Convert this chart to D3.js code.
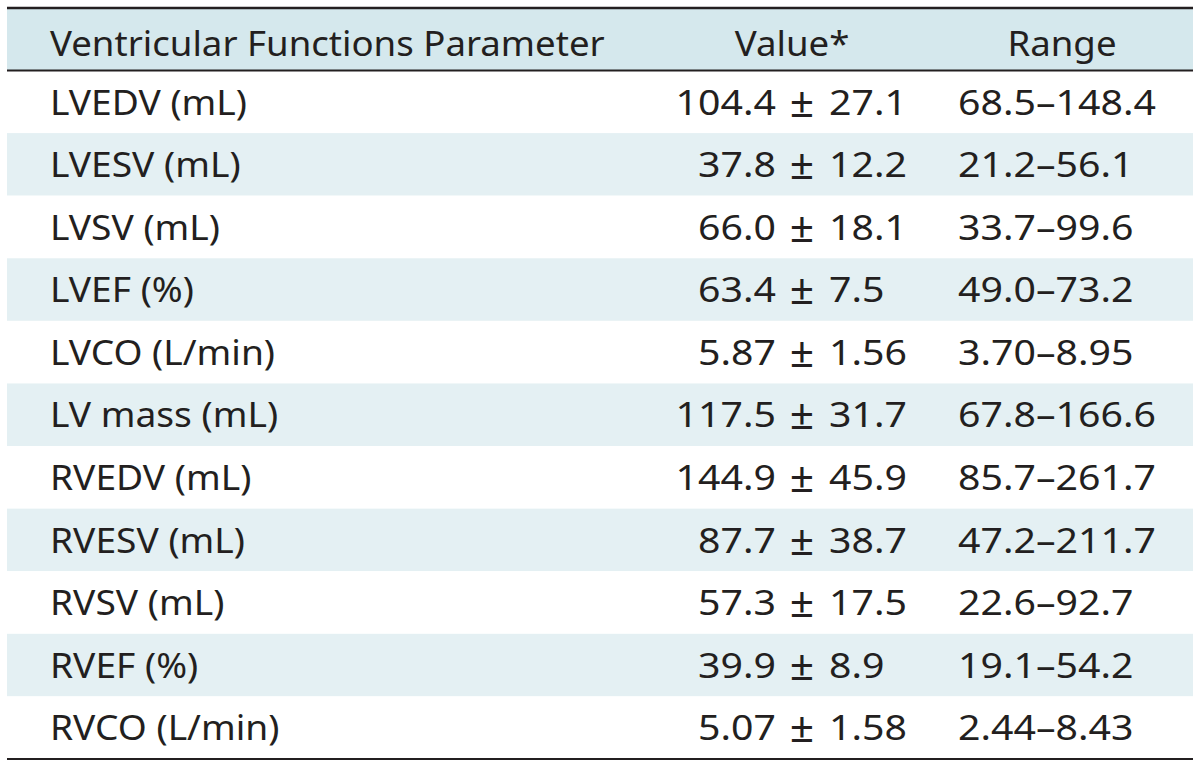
<!DOCTYPE html>
<html>
<head>
<meta charset="utf-8">
<script src="https://cdn.jsdelivr.net/npm/d3@7"></script>
<style>
  html, body { margin: 0; padding: 0; background: #ffffff; }
  svg { display: block; }
</style>
</head>
<body>
<svg id="chart" width="1200" height="768"></svg>
<script>
// ---- data ----
const headers = ["Ventricular Functions Parameter", "Value*", "Range"];
const parameters = ["LVEDV (mL)", "LVESV (mL)", "LVSV (mL)", "LVEF (%)", "LVCO (L/min)",
  "LV mass (mL)", "RVEDV (mL)", "RVESV (mL)", "RVSV (mL)", "RVEF (%)", "RVCO (L/min)"];
const means = ["104.4", "37.8", "66.0", "63.4", "5.87", "117.5", "144.9", "87.7", "57.3", "39.9", "5.07"];
const sds = ["27.1", "12.2", "18.1", "7.5", "1.56", "31.7", "45.9", "38.7", "17.5", "8.9", "1.58"];
const rangeLow = ["68.5", "21.2", "33.7", "49.0", "3.70", "67.8", "85.7", "47.2", "22.6", "19.1", "2.44"];
const rangeHigh = ["148.4", "56.1", "99.6", "73.2", "8.95", "166.6", "261.7", "211.7", "92.7", "54.2", "8.43"];

// ---- layout ----
const svg = d3.select("#chart");
const left = 7, right = 1193;
const headTop = 8, headBottom = 70.5, tableBottom = 759;
const fontFamily = "'Noto Sans', 'DejaVu Sans', sans-serif";
const fontSize = 35;
const ink = "#231f20";

const y = d3.scaleBand().domain(d3.range(parameters.length)).range([headBottom, tableBottom]).padding(0);

// measure to get horizontal compression matching the reference's condensed face
function measure(s, size) {
  const probe = svg.append("text").attr("font-family", fontFamily).attr("font-size", size).text(s);
  const w = probe.node().getComputedTextLength();
  probe.remove();
  return w;
}
const sx = 555 / measure(headers[0], fontSize);
const sxNum = 198 / measure(rangeLow[0] + "\u2013" + rangeHigh[0], fontSize);
const sxLabel = 197 / measure(parameters[0], fontSize);

// header background
svg.append("rect").attr("x", left).attr("y", headTop).attr("width", right - left)
  .attr("height", headBottom - headTop).attr("fill", "#d5e8ed");

// striped rows
svg.selectAll("rect.row").data(d3.range(parameters.length)).join("rect")
  .attr("class", "row")
  .attr("x", left).attr("y", i => y(i)).attr("width", right - left).attr("height", y.bandwidth())
  .attr("fill", i => i % 2 === 1 ? "#e4f0f3" : "#ffffff");

// rules
function rule(yy, w) {
  svg.append("line").attr("x1", left).attr("x2", right).attr("y1", yy).attr("y2", yy)
    .attr("stroke", ink).attr("stroke-width", w);
}
rule(headTop, 2.5);
rule(headBottom, 2);
rule(tableBottom, 2);

function txt(x, yy, s, anchor, scale, size) {
  return svg.append("text")
    .attr("transform", `translate(${x},${yy}) scale(${scale},1)`)
    .attr("font-family", fontFamily).attr("font-size", size || fontSize)
    .attr("fill", ink).attr("text-anchor", anchor).text(s);
}

// header
const headBase = 56;
txt(50, headBase, headers[0], "start", sx);
txt(792, headBase, headers[1], "middle", sx);
txt(1062, headBase, headers[2], "middle", sx);

// body
const baseOff = 44;
parameters.forEach((p, i) => {
  const by = y(i) + baseOff;
  txt(50, by, p, "start", sxLabel);
  txt(776, by, means[i], "end", sxNum);
  txt(802, by + 2, "±", "middle", 1, fontSize * 1.22);
  txt(829, by, sds[i], "start", sxNum);
  txt(958, by, rangeLow[i] + "\u2013" + rangeHigh[i], "start", sxNum);
});
</script>
</body>
</html>
